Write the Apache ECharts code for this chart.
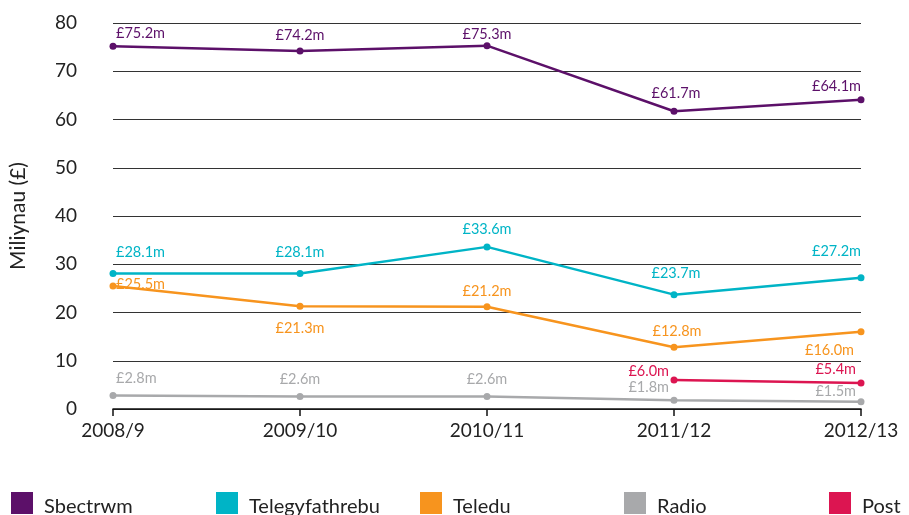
<!DOCTYPE html>
<html>
<head>
<meta charset="utf-8">
<script src="https://cdn.jsdelivr.net/npm/echarts@6/dist/echarts.min.js"></script>
<style>
  html, body { margin: 0; padding: 0; background: #fff; }
  #chart { width: 909px; height: 515px; }
</style>
</head>
<body>
<div id="chart"></div>
<script>
// blynyddoedd
var years = ['2008/9', '2009/10', '2010/11', '2011/12', '2012/13'];
var yTicks = [0, 10, 20, 30, 40, 50, 60, 70, 80];

var sbectrwm = [75.2, 74.2, 75.3, 61.7, 64.1];
var telegyfathrebu = [28.1, 28.1, 33.6, 23.7, 27.2];
var teledu = [25.5, 21.3, 21.2, 12.8, 16.0];
var radio = [2.8, 2.6, 2.6, 1.8, 1.5];
var post = [null, null, null, 6.0, 5.4];

var names = ['Sbectrwm', 'Telegyfathrebu', 'Teledu', 'Radio', 'Post'];
var colors = ['#5c1069', '#00b4c6', '#f7941e', '#a8a9ab', '#dc1551'];
var legendLeft = [11, 216, 420, 624, 829];

var FONT = 'Lato, "Open Sans", sans-serif';

// label placement per point: [position, align, dx, dy]
var place = {
    Sbectrwm:       [['top','left',3,3],['top','center',0,0],['top','center',0,5],['top','center',2,-2],['top','right',0,3]],
    Telegyfathrebu: [['top','left',3,-5],['top','center',0,-5],['top','center',0,-2],['top','center',2,-5],['top','right',0,-10]],
    Teledu:         [['top','left',3,14],['bottom','center',0,6],['top','center',0,1],['top','center',3,0],['bottom','right',-7,3]],
    Radio:          [['top','left',3,-1],['top','center',0,-1],['top','center',0,-1],['top','right',-5,3],['top','right',-5,6]],
    Post:           [null,null,null,['top','right',-5,7],['top','right',-5,2]]
};

var seriesData = [sbectrwm, telegyfathrebu, teledu, radio, post];

// adeiladu'r gyfres
function buildSeries(name, idx) {
    var data = seriesData[idx].map(function (v, i) {
        if (v === null) return null;
        var p = place[name][i];
        return {
            value: v,
            label: {
                position: p[0],
                align: p[1],
                offset: [p[2], p[3]]
            }
        };
    });
    return {
        name: name,
        type: 'line',
        data: data,
        symbol: 'circle',
        symbolSize: 7,
        lineStyle: { width: 2.5, color: colors[idx] },
        itemStyle: { color: colors[idx] },
        label: {
            show: true,
            color: colors[idx],
            fontFamily: FONT,
            fontSize: 14.5,
            distance: 5,
            formatter: function (p) { return '£' + p.value.toFixed(1) + 'm'; }
        },
        animation: false,
        z: 10 - idx
    };
}

var legends = names.map(function (n, i) {
    return {
        data: [n],
        left: legendLeft[i],
        top: 492,
        padding: 0,
        icon: 'rect',
        itemWidth: 22,
        itemHeight: 22,
        itemGap: 0,
        formatter: '{t|{name}}',
        textStyle: {
            rich: {
                t: { fontFamily: FONT, fontSize: 20, color: '#222', padding: [8, 0, 0, 6] }
            }
        },
        selectedMode: false
    };
});

var option = {
    backgroundColor: '#fff',
    color: colors,
    grid: { left: 113, right: 48, top: 23, bottom: 106, outerBoundsMode: 'none' },
    legend: legends,
    xAxis: {
        type: 'category',
        data: years,
        boundaryGap: false,
        axisLine: { lineStyle: { color: '#111', width: 1.5 } },
        axisTick: { show: true, alignWithLabel: true, length: 7, lineStyle: { color: '#111', width: 1.5 } },
        axisLabel: { fontFamily: FONT, fontSize: 19, color: '#222', margin: 12 },
        splitLine: { show: false }
    },
    yAxis: {
        type: 'value',
        min: yTicks[0],
        max: yTicks[yTicks.length - 1],
        interval: 10,
        name: 'Miliynau (£)',
        nameLocation: 'middle',
        nameGap: 84,
        nameTextStyle: { fontFamily: FONT, fontSize: 21, color: '#222' },
        axisLine: { show: false },
        axisTick: { show: false },
        axisLabel: { fontFamily: FONT, fontSize: 19, color: '#222', margin: 36 },
        splitLine: { lineStyle: { color: '#333', width: 1 } }
    },
    series: names.map(buildSeries)
};

var chart = echarts.init(document.getElementById('chart'));
chart.setOption(option);
</script>
</body>
</html>
